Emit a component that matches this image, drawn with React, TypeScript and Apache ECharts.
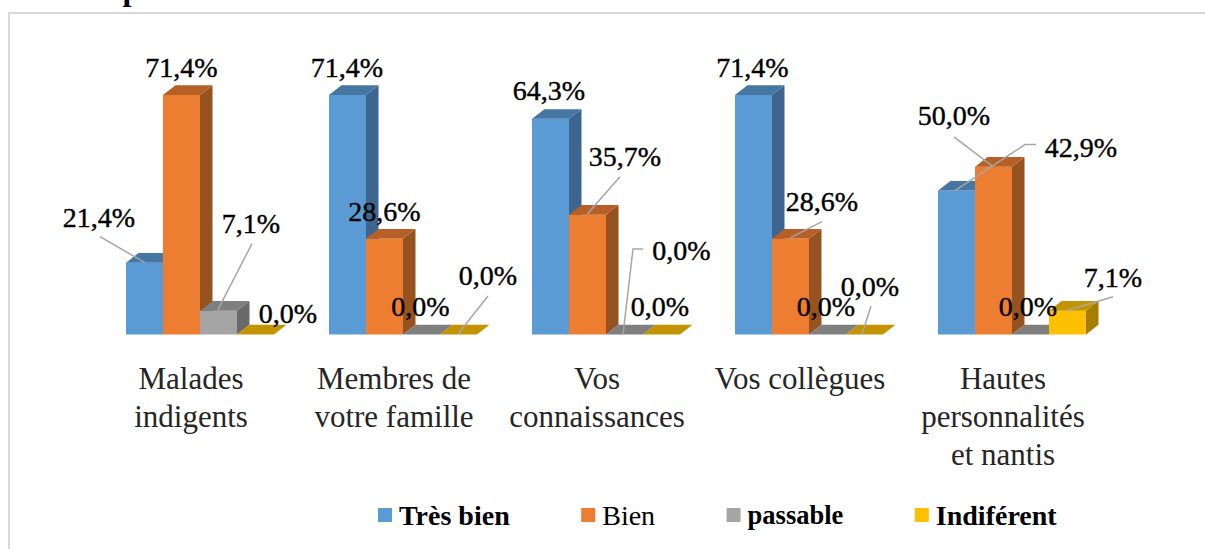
import React, { useEffect, useRef } from "react";
import * as echarts from "echarts";

const categories = [
  "Malades\nindigents",
  "Membres de\nvotre famille",
  "Vos\nconnaissances",
  "Vos collègues",
  "Hautes\npersonnalités\net nantis",
];
const tresBien = [21.4, 71.4, 64.3, 71.4, 42.9];
const bien = [71.4, 28.6, 35.7, 28.6, 50.0];
const passable = [7.1, 0, 0, 0, 0];
const indiferent = [0, 0, 0, 0, 7.1];
const seriesNames = ["Très bien", "Bien", "passable", "Indiférent"];
const seriesValues = [tresBien, bien, passable, indiferent];
const headingText = "avec le patient";

const FONT = '"Liberation Serif", serif';
const FRONT = ["#5b9bd5", "#ed7d31", "#a5a5a5", "#ffc000"];
const TOP = ["#4676a2", "#b65f26", "#7f7f7f", "#c49300"];
const SIDE = ["#3c6690", "#97531f", "#6a6a6a", "#a57d00"];
const LEGEND_SIZE = [28, 28, 26.5, 28];
const W = 1205;
const H = 549;
const BAND_W = 203;
const BAR_W = 37;
const GRID_LEFT = 89.5;
const BASE_Y = 334.5;
const PX_PER_UNIT = 3.354;
const Y_MAX = 90;
const SHIFT = 9;
const DX = 12.5;
const DY = 9.7;

// label placement relative to the top-centre of each bar's front: [textDx, textDy, leader points]
type Lay = [number, number, number[][]?];
const LABEL_LAYOUT: Lay[][] = [
  [
    [-45.5, -45, [[-44.5, -26], [0.5, 0]]],
    [-0.5, -28],
    [-1.5, -28],
    [-1, -28],
    [124.5, -43, [[79.5, -46], [68.5, -46], [-1.5, 0]]],
  ],
  [
    [0, -28],
    [0, -27],
    [37.5, -58, [[32.5, -38], [0, -1]]],
    [31.5, -37, [[31.5, -17], [0, -1]]],
    [-39.5, -51, [[-39.5, -30], [-1.5, -1]]],
  ],
  [
    [32.5, -87, [[33.5, -67], [-0.5, -1]]],
    [-1, -28.5],
    [57, -84, [[18.5, -85.5], [8.5, -85.5], [-1.5, 0]]],
    [-1.5, -28.5],
    [-2.5, -28.5],
  ],
  [
    [32.5, -21.5],
    [29.5, -59, [[29.5, -38.5], [-0.5, -0.5]]],
    [-1.5, -28.5],
    [5.5, -48.5, [[6.5, -28.5], [-2.5, -0.5]]],
    [45.5, -33, [[45.5, -14], [-1.5, 0]]],
  ],
];

const fmt = (v: number) => v.toFixed(1).replace(".", ",") + "%";

function makeRender(si: number) {
  return (_params: any, api: any) => {
    const cat = api.value(0);
    const val = api.value(1);
    const top = api.coord([cat, val]);
    const base = api.coord([cat, 0]);
    const cx = top[0] + SHIFT + (si - 1.5) * BAR_W;
    const x0 = cx - BAR_W / 2;
    const x1 = cx + BAR_W / 2;
    const yt = top[1];
    const yb = base[1];
    const children: any[] = [];
    if (yb - yt > 0.1) {
      children.push({
        type: "polygon",
        shape: { points: [[x1, yt], [x1 + DX, yt - DY], [x1 + DX, yb - DY], [x1, yb]] },
        style: { fill: SIDE[si] },
      });
      children.push({
        type: "rect",
        shape: { x: x0, y: yt, width: BAR_W, height: yb - yt },
        style: { fill: FRONT[si] },
      });
    }
    children.push({
      type: "polygon",
      shape: { points: [[x0, yt], [x0 + DX, yt - DY], [x1 + DX, yt - DY], [x1, yt]] },
      style: { fill: TOP[si] },
    });
    const lay = LABEL_LAYOUT[si][cat];
    if (lay[2]) {
      children.push({
        type: "polyline",
        z2: 50,
        shape: { points: lay[2].map((p) => [cx + p[0], yt + p[1]]) },
        style: { stroke: "#a6a6a6", lineWidth: 1.5, fill: "none" },
      });
    }
    children.push({
      type: "text",
      z2: 100,
      style: {
        x: cx + lay[0],
        y: yt + lay[1],
        text: fmt(val),
        fontFamily: FONT,
        fontSize: 28,
        fill: "#000000",
        stroke: "#000000",
        lineWidth: 0.4,
        align: "center",
        verticalAlign: "middle",
      },
    });
    return { type: "group", children };
  };
}

export default function App() {
  const ref = useRef<HTMLDivElement>(null);
  useEffect(() => {
    if (!ref.current) return;
    const chart = echarts.init(ref.current, undefined, { renderer: "svg" });
    chart.setOption({
      animation: false,
      backgroundColor: "#ffffff",
      grid: {
        left: GRID_LEFT,
        width: BAND_W * categories.length,
        top: BASE_Y - PX_PER_UNIT * Y_MAX,
        height: PX_PER_UNIT * Y_MAX,
      },
      xAxis: {
        type: "category",
        data: categories,
        axisLine: { show: false },
        axisTick: { show: false },
        axisLabel: {
          interval: 0,
          margin: 25,
          fontFamily: FONT,
          fontSize: 31,
          lineHeight: 38,
          color: "#262626",
          verticalAlign: "top",
        },
      },
      yAxis: { type: "value", min: 0, max: Y_MAX, interval: 30, show: false },
      legend: {
        left: 378,
        top: 501,
        padding: 0,
        icon: "rect",
        itemWidth: 14,
        itemHeight: 14,
        itemGap: 71.5,
        selectedMode: false,
        textStyle: { fontFamily: FONT, fontSize: 28, color: "#000000", padding: [0, 0, 0, 2] },
        data: seriesNames.map((name, i) => ({
          name,
          textStyle: {
            fontWeight: i === 1 ? "normal" : "bold",
            fontSize: LEGEND_SIZE[i],
            padding: [0, 0, 0, 2],
          },
        })),
      },
      graphic: [
        {
          type: "rect",
          shape: { x: 9, y: 13, width: W + 50, height: H + 50 },
          style: { fill: "none", stroke: "#d9d9d9", lineWidth: 2 },
          silent: true,
        },
        {
          type: "text",
          x: 23,
          y: 5,
          style: {
            text: headingText,
            fontFamily: FONT,
            fontSize: 32,
            fontWeight: "bold",
            fill: "#000000",
            verticalAlign: "bottom",
          },
          silent: true,
        },
      ],
      series: seriesNames.map((name, si) => ({
        type: "custom",
        name,
        clip: false,
        itemStyle: { color: FRONT[si] },
        renderItem: makeRender(si),
        encode: { x: 0, y: 1 },
        data: seriesValues[si].map((v, i) => [i, v]),
      })),
    });
    return () => chart.dispose();
  }, []);
  return (
    <div
      ref={ref}
      style={{ position: "fixed", left: 0, top: 0, width: W, height: H, overflow: "hidden" }}
    />
  );
}
